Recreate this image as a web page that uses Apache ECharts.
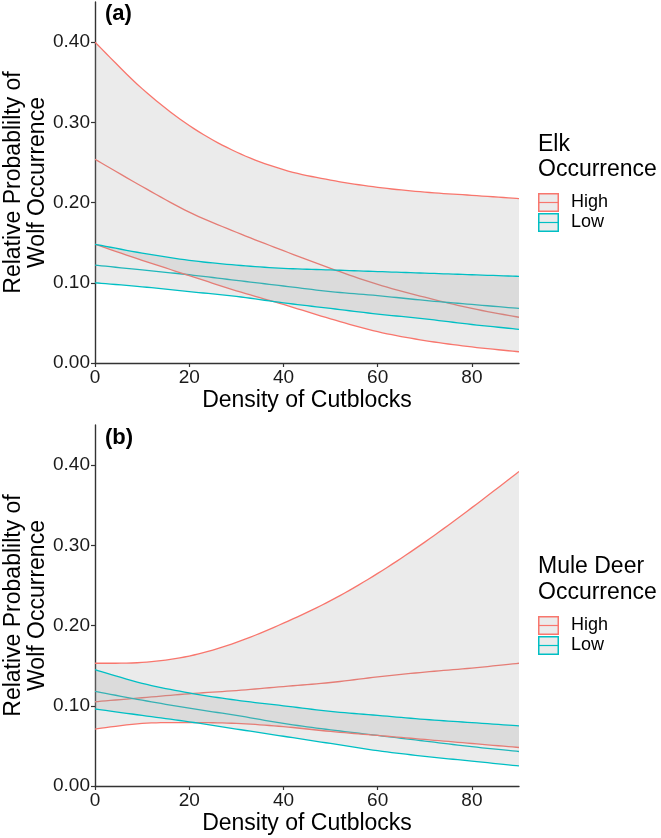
<!DOCTYPE html>
<html>
<head>
<meta charset="utf-8">
<script src="https://cdn.jsdelivr.net/npm/echarts@6/dist/echarts.min.js"></script>
<style>
html,body{margin:0;padding:0;background:#fff;}
#chart{width:661px;height:838px;}
</style>
</head>
<body>
<div id="chart"></div>
<script>
// ---- data ----
const density = [0, 10, 20, 30, 40, 50, 60, 70, 80, 90];
const xTicks = [0, 20, 40, 60, 80];
const yTicks = [0, 0.1, 0.2, 0.3, 0.4];

// Panel (a) Elk occurrence
const elkHighUpper = [0.400, 0.342, 0.296, 0.263, 0.241, 0.228, 0.219, 0.213, 0.209, 0.205];
const elkHighMean  = [0.254, 0.220, 0.188, 0.163, 0.140, 0.118, 0.098, 0.082, 0.068, 0.057];
const elkHighLower = [0.148, 0.128, 0.109, 0.090, 0.073, 0.055, 0.039, 0.028, 0.020, 0.014];
const elkLowUpper  = [0.148, 0.137, 0.128, 0.122, 0.118, 0.116, 0.114, 0.112, 0.110, 0.108];
const elkLowMean   = [0.122, 0.116, 0.110, 0.103, 0.096, 0.089, 0.084, 0.078, 0.073, 0.068];
const elkLowLower  = [0.100, 0.095, 0.089, 0.083, 0.075, 0.068, 0.061, 0.055, 0.048, 0.042];

// Panel (b) Mule deer occurrence
const deerHighUpper = [0.153, 0.154, 0.162, 0.179, 0.203, 0.231, 0.265, 0.304, 0.347, 0.392];
const deerHighMean  = [0.105, 0.110, 0.115, 0.119, 0.124, 0.129, 0.136, 0.142, 0.147, 0.153];
const deerHighLower = [0.071, 0.078, 0.079, 0.078, 0.074, 0.068, 0.063, 0.058, 0.053, 0.048];
const deerLowUpper  = [0.145, 0.128, 0.116, 0.107, 0.100, 0.093, 0.088, 0.083, 0.079, 0.075];
const deerLowMean   = [0.118, 0.107, 0.097, 0.088, 0.078, 0.070, 0.063, 0.056, 0.049, 0.043];
const deerLowLower  = [0.096, 0.088, 0.080, 0.071, 0.062, 0.053, 0.044, 0.037, 0.031, 0.025];

const panelLabels = ['(a)', '(b)'];
const legendTitles = ['Elk\nOccurrence', 'Mule Deer\nOccurrence'];
const groupNames = ['High', 'Low'];
const yTitle = 'Relative Probablilty of\nWolf Occurrence';
const xTitle = 'Density of Cutblocks';

// ---- styling ----
const RED = '#F8766D', CYAN = '#00BFC4';
const FONT = '"Liberation Sans", Arial, Helvetica, sans-serif';
const RIBBON = 'rgba(153,153,153,0.2)';

function keyIcon(color) {
  const svg = "<svg xmlns='http://www.w3.org/2000/svg' width='28' height='19' viewBox='0 0 28 19'>" +
    "<rect x='0.75' y='0.75' width='19.5' height='17.5' fill='#ebebeb' stroke='" + color + "' stroke-width='1.5'/>" +
    "<line x1='0.75' y1='9.5' x2='20.25' y2='9.5' stroke='" + color + "' stroke-width='1.2'/></svg>";
  return 'image://data:image/svg+xml;charset=utf-8,' + encodeURIComponent(svg);
}

// Catmull-Rom interpolation of pixel points (rendering only)
function smoothPts(pts, n) {
  const out = [];
  const L = pts.length;
  for (let i = 0; i < L - 1; i++) {
    const p0 = pts[Math.max(i - 1, 0)], p1 = pts[i], p2 = pts[i + 1], p3 = pts[Math.min(i + 2, L - 1)];
    for (let s = 0; s < n; s++) {
      const t = s / n, t2 = t * t, t3 = t2 * t;
      const f = k => 0.5 * ((2 * p1[k]) + (-p0[k] + p2[k]) * t + (2 * p0[k] - 5 * p1[k] + 4 * p2[k] - p3[k]) * t2 + (-p0[k] + 3 * p1[k] - 3 * p2[k] + p3[k]) * t3);
      out.push([f(0), f(1)]);
    }
  }
  out.push(pts[L - 1]);
  return out;
}
function coords(api, arr) {
  return smoothPts(density.map((x, i) => api.coord([x, arr[i]])), 10);
}

const grids = [
  {left: 95, top: 2, width: 424, height: 361, outerBoundsMode: 'none', containLabel: false},
  {left: 95, top: 425, width: 424, height: 361, outerBoundsMode: 'none', containLabel: false}
];

function xAxisDef(gi) {
  return {
    type: 'value', gridIndex: gi, min: 0, max: 90,
    name: xTitle, nameLocation: 'middle', nameGap: 26, nameMoveOverlap: false,
    nameTextStyle: {fontFamily: FONT, fontSize: 23, color: '#000'},
    axisLine: {show: true, lineStyle: {color: '#333', width: 1.4}},
    axisTick: {show: true, length: 4, customValues: xTicks, lineStyle: {color: '#333', width: 1.2}},
    axisLabel: {customValues: xTicks, fontFamily: FONT, fontSize: 19, color: '#1a1a1a', margin: 5},
    splitLine: {show: false}
  };
}
function yAxisDef(gi) {
  return {
    type: 'value', gridIndex: gi, min: 0, max: 0.45,
    name: yTitle, nameLocation: 'middle', nameGap: 45, nameRotate: 90, nameMoveOverlap: false,
    nameTextStyle: {fontFamily: FONT, fontSize: 23, color: '#000', lineHeight: 24},
    axisLine: {show: true, lineStyle: {color: '#333', width: 1.4}},
    axisTick: {show: true, length: 4, customValues: yTicks, lineStyle: {color: '#333', width: 1.2}},
    axisLabel: {customValues: yTicks, fontFamily: FONT, fontSize: 19, color: '#1a1a1a', margin: 5,
      formatter: v => v.toFixed(2)},
    splitLine: {show: false}
  };
}

function ribbon(gi, name, upper, lower, color) {
  return {
    type: 'custom', name: name, xAxisIndex: gi, yAxisIndex: gi, z: 2, clip: true, silent: true,
    data: [[density[0], lower[0]]],
    renderItem: function (params, api) {
      const up = coords(api, upper), lo = coords(api, lower);
      const poly = up.concat(lo.slice().reverse());
      return {
        type: 'group',
        children: [
          {type: 'polygon', shape: {points: poly}, style: {fill: RIBBON, stroke: null}},
          {type: 'polyline', shape: {points: up}, style: {fill: null, stroke: color, lineWidth: 1.3}},
          {type: 'polyline', shape: {points: lo}, style: {fill: null, stroke: color, lineWidth: 1.3}}
        ]
      };
    }
  };
}
function meanLine(gi, name, arr, color) {
  return {
    type: 'custom', name: name, xAxisIndex: gi, yAxisIndex: gi, z: 1, clip: true, silent: true,
    data: [[density[0], arr[0]]],
    renderItem: function (params, api) {
      return {type: 'polyline', shape: {points: coords(api, arr)}, style: {fill: null, stroke: color, lineWidth: 1.3}};
    }
  };
}

const panels = [
  {high: [elkHighUpper, elkHighMean, elkHighLower], low: [elkLowUpper, elkLowMean, elkLowLower]},
  {high: [deerHighUpper, deerHighMean, deerHighLower], low: [deerLowUpper, deerLowMean, deerLowLower]}
];

const series = [];
panels.forEach((p, gi) => {
  series.push(meanLine(gi, 'High', p.high[1], RED));
  series.push(meanLine(gi, 'Low', p.low[1], CYAN));
  series.push(ribbon(gi, 'High', p.high[0], p.high[2], RED));
  series.push(ribbon(gi, 'Low', p.low[0], p.low[2], CYAN));
});

const legendTops = [193, 616];
const legends = legendTops.map(t => ({
  left: 538, top: t, orient: 'vertical', itemGap: 1, itemWidth: 28, itemHeight: 19,
  padding: 0, selectedMode: false,
  textStyle: {fontFamily: FONT, fontSize: 18, color: '#000'},
  data: [{name: groupNames[0], icon: keyIcon(RED)}, {name: groupNames[1], icon: keyIcon(CYAN)}]
}));

const titles = [
  {text: panelLabels[0], left: 105, top: 3, padding: 0, textStyle: {fontFamily: FONT, fontSize: 22, fontWeight: 'bold', color: '#000'}},
  {text: panelLabels[1], left: 105, top: 427, padding: 0, textStyle: {fontFamily: FONT, fontSize: 22, fontWeight: 'bold', color: '#000'}},
  {text: legendTitles[0], left: 538, top: 132, padding: 0, textStyle: {fontFamily: FONT, fontSize: 23, fontWeight: 'normal', color: '#000', lineHeight: 25}},
  {text: legendTitles[1], left: 538, top: 554, padding: 0, textStyle: {fontFamily: FONT, fontSize: 23, fontWeight: 'normal', color: '#000', lineHeight: 26}}
];

const chart = echarts.init(document.getElementById('chart'), null, {renderer: 'canvas'});
chart.setOption({
  backgroundColor: '#fff',
  animation: false,
  title: titles,
  legend: legends,
  grid: grids,
  xAxis: [xAxisDef(0), xAxisDef(1)],
  yAxis: [yAxisDef(0), yAxisDef(1)],
  series: series
});
</script>
</body>
</html>
